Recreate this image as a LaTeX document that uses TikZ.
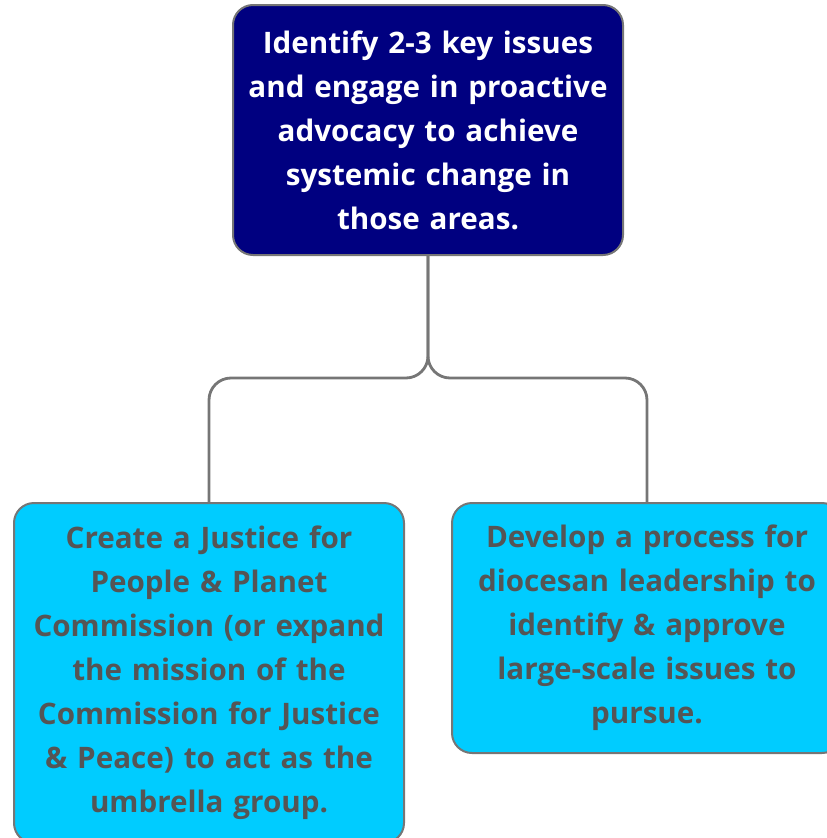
\documentclass[tikz,border=0pt]{standalone}
\usepackage{fontspec}
\setmainfont{Open Sans}
\usepackage{xcolor}
\usetikzlibrary{positioning}
\definecolor{navybox}{RGB}{0,0,128}
\definecolor{cyanbox}{RGB}{0,204,255}
\definecolor{greytext}{RGB}{85,85,85}
\definecolor{greyline}{RGB}{118,118,118}

\begin{document}
\begin{tikzpicture}[x=1pt,y=-1pt]
\tikzstyle{every node}+=[inner sep=0pt]
\tikzstyle{goalbox}=[draw=greyline, line width=2pt, rounded corners=20pt, align=center, text width=370pt, minimum width=390pt, font=\fontsize{29.6}{44}\selectfont\bfseries]
\tikzstyle{link}=[draw=greyline, line width=2.8pt, rounded corners=22pt]
\clip (0,0) rectangle (827,838);
\node [goalbox, fill=navybox, text=white, minimum height=250pt] (goal) at (428,130) {Identify 2-3 key issues\\and engage in proactive\\advocacy to achieve\\systemic change in\\those areas.};
\node [goalbox, fill=cyanbox, text=greytext, minimum height=340pt] (commission) at (209,673) {Create a Justice for\\People \& Planet\\Commission (or expand\\the mission of the\\Commission for Justice\\\& Peace) to act as the\\umbrella group.};
\node [goalbox, fill=cyanbox, text=greytext, minimum height=250pt] (process) at (647,628) {Develop a process for\\diocesan leadership to\\identify \& approve\\large-scale issues to\\pursue.};
\coordinate (jleft) at (209,378);
\coordinate (jright) at (647,378);
\draw [link] (goal.south) |- (jleft) -- (commission.north);
\draw [link] (goal.south) |- (jright) -- (process.north);
\end{tikzpicture}
\end{document}
